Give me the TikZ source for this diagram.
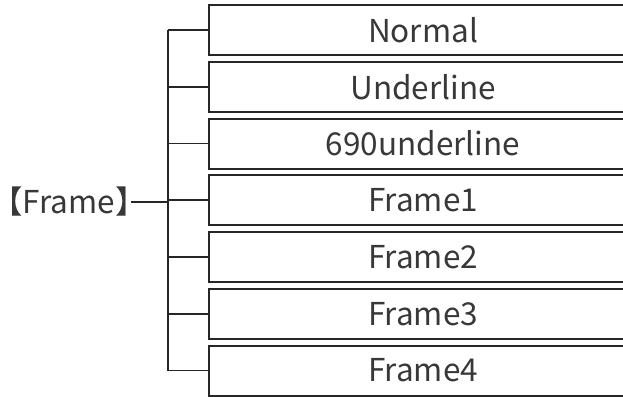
\documentclass[tikz,border=0pt]{standalone}
\usepackage{fontspec}
\setmainfont{Noto Sans CJK SC}
\newfontfamily\cjkfont{Noto Sans CJK SC}
\begin{document}
\begin{tikzpicture}[x=1pt,y=-1pt,
  itembox/.style={draw=black!85,line width=2pt,minimum width=428pt,minimum height=50pt,
    inner sep=0pt,anchor=center,font=\fontsize{31.5}{31.5}\selectfont,text=black!78},
  link/.style={draw=black!85,line width=1.6pt},
  rootlabel/.style={inner sep=0pt,font=\cjkfont\fontsize{31.5}{31.5}\selectfont,text=black!78}]
\useasboundingbox (0,0) rectangle (623,396);
\clip (0,0) rectangle (623,396);
\foreach \t [count=\i from 0] in {Normal,Underline,690underline,Frame1,Frame2,Frame3,Frame4}{
  \node[itembox] (b\i) at (423,{30+\i*56.75}) {\t};
}
\node[rootlabel] (root) at (69,202) {\kern-0.5em【Frame】\kern-0.5em};
\coordinate (top) at (168,30);
\coordinate (bot) at (168,370.5);
\coordinate (jn) at (168,202);
\draw[link] (top) -- (bot);
\draw[link] (root.east) -- (jn);
\foreach \i in {0,...,6}{
  \draw[link] (b\i.west -| top) -- (b\i.west);
}
\end{tikzpicture}
\end{document}
